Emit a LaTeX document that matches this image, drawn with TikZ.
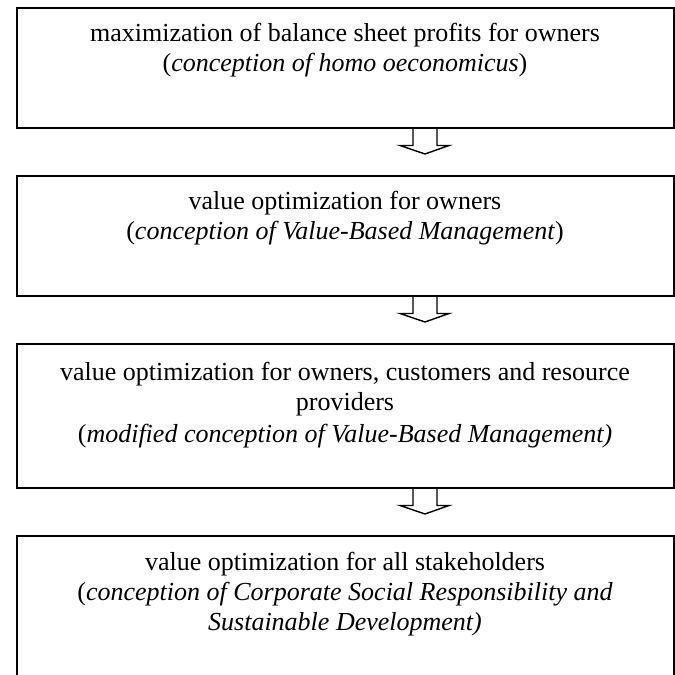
\documentclass[tikz,border=0pt]{standalone}
\usepackage{fontspec}
\setmainfont{Liberation Serif}
\usetikzlibrary{calc}
\begin{document}
\begin{tikzpicture}[x=0.5pt,y=-0.5pt,
  stagebox/.style={draw=black, line width=1pt, minimum width=328.5pt,
    inner sep=0pt, anchor=north west},
  stagetext/.style={align=center, font=\fontsize{13}{15}\selectfont,
    inner sep=0pt, anchor=north},
  flow/.style={draw=black, line width=0.7pt, line join=miter}]
\useasboundingbox (0,0) rectangle (675,675);
\clip (0,0) rectangle (675,675);

% the four stages, top to bottom
\node[stagebox, minimum height=60pt] (b1) at (15.5,7) {};
\node[stagebox, minimum height=60pt] (b2) at (15.5,175) {};
\node[stagebox, minimum height=72pt] (b3) at (15.5,343) {};
\node[stagebox, minimum height=90pt] (b4) at (15.5,535) {};

\node[stagetext] (t1) at ($(b1.north)+(0,16)$)
  {maximization of balance sheet profits for owners\\
   (\textit{conception of homo oeconomicus})};
\node[stagetext] (t2) at ($(b2.north)+(0,16)$)
  {value optimization for owners\\
   (\textit{conception of Value-Based Management})};
\node[stagetext] (t3) at ($(b3.north)+(0,19)$)
  {value optimization for owners, customers and resource\\
   providers\\[1pt]
   (\textit{modified conception of Value-Based Management)}};
\node[stagetext] (t4) at ($(b4.north)+(0,17)$)
  {value optimization for all stakeholders\\
   (\textit{conception of Corporate Social Responsibility and}\\
   \textit{Sustainable Development)}};

% hollow block arrows between consecutive stages
\foreach \a in {b1,b2,b3}{
  \draw[flow] ($(\a.south)+(68,0)$) -- ++(0,16.5) -- ++(-13,0)
    -- ($(\a.south)+(80,25)$) -- ($(\a.south)+(104,16.5)$) -- ++(-12,0)
    -- ($(\a.south)+(92,0)$);
}
\end{tikzpicture}
\end{document}
